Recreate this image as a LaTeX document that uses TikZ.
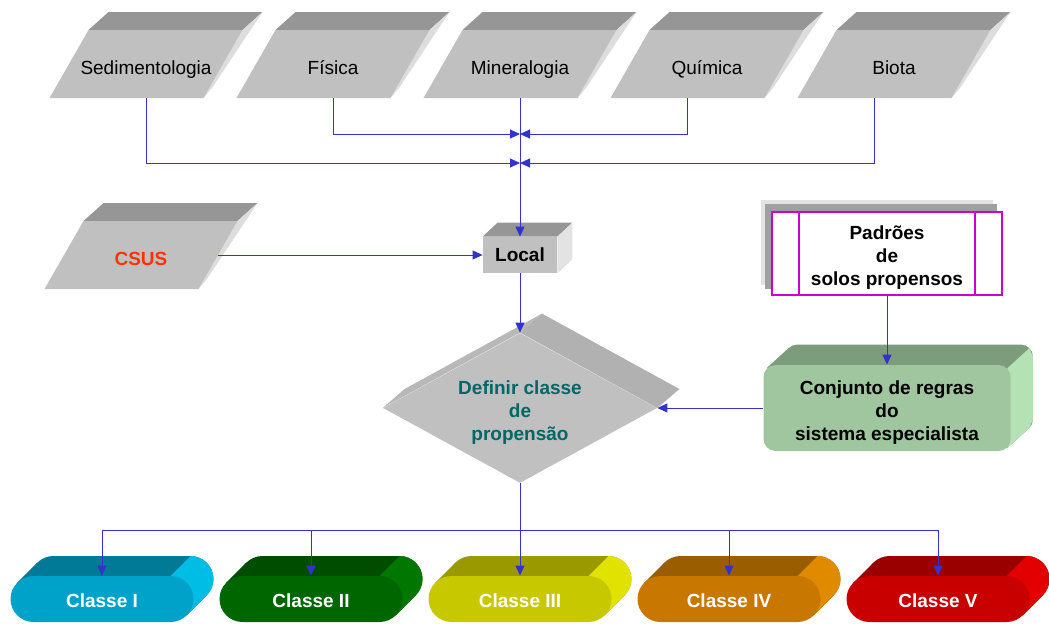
\documentclass[tikz,border=0pt]{standalone}
\usepackage{fontspec}
\setmainfont{Liberation Sans}
\usepackage{xcolor}
\usepackage{tikz}
\usetikzlibrary{arrows.meta,shapes.geometric,shapes.misc,backgrounds}
\definecolor{dataFront}{HTML}{C0C0C0}
\definecolor{dataTop}{HTML}{969696}
\definecolor{dataSide}{HTML}{DDDDDD}
\definecolor{linkBlue}{HTML}{3333CC}
\definecolor{csusRed}{HTML}{FF3300}
\definecolor{decTeal}{HTML}{006666}
\definecolor{padMagenta}{HTML}{CC00CC}
\definecolor{padLight}{HTML}{E3E3E3}
\definecolor{padMid}{HTML}{A0A0A0}
\definecolor{ruleFront}{HTML}{A0C6A0}
\definecolor{ruleTop}{HTML}{7C9C7C}
\definecolor{ruleSide}{HTML}{B4E2B4}
\definecolor{clsOneF}{HTML}{00A2C9}
\definecolor{clsOneT}{HTML}{007A96}
\definecolor{clsOneS}{HTML}{00BDE6}
\definecolor{clsTwoF}{HTML}{006600}
\definecolor{clsTwoT}{HTML}{004D00}
\definecolor{clsTwoS}{HTML}{007800}
\definecolor{clsThreeF}{HTML}{C8C800}
\definecolor{clsThreeT}{HTML}{9A9A00}
\definecolor{clsThreeS}{HTML}{E2E200}
\definecolor{clsFourF}{HTML}{C87800}
\definecolor{clsFourT}{HTML}{9A5E00}
\definecolor{clsFourS}{HTML}{E08A00}
\definecolor{clsFiveF}{HTML}{C80000}
\definecolor{clsFiveT}{HTML}{9A0000}
\definecolor{clsFiveS}{HTML}{E20000}
\newcommand{\diagfont}{\fontsize{9.5}{11.5}\selectfont}
\tikzset{
  datatext/.style={rectangle,inner sep=0pt,minimum width=77pt,minimum height=34pt,
    text height=10pt,text depth=0pt,font=\diagfont},
  lowtext/.style={text height=32pt,text depth=0pt},
  localbox/.style={rectangle,fill=dataFront,minimum width=37pt,minimum height=18pt,
    inner sep=0pt,font=\diagfont\bfseries},
  decision/.style={diamond,aspect=1.83,fill=dataFront,minimum width=137pt,minimum height=75pt,
    inner sep=0pt,align=center,text=decTeal,font=\diagfont\bfseries,lowtext},
  padbox/.style={rectangle,draw=padMagenta,line width=1pt,fill=white,minimum width=115pt,
    minimum height=41.5pt,inner sep=0pt,align=center,font=\diagfont\bfseries,lowtext},
  rulebox/.style={rectangle,rounded corners=6pt,fill=ruleFront,minimum width=123.5pt,
    minimum height=43pt,inner sep=0pt,align=center,font=\diagfont\bfseries,lowtext},
  pillface/.style={rounded rectangle,minimum width=91.5pt,minimum height=23pt,inner sep=0pt,
    text height=8.5pt,text depth=0pt,text=white,font=\diagfont\bfseries},
  flowline/.style={draw=linkBlue,line width=0.5pt},
  flowarrow/.style={-{Triangle[length=5pt,width=4.5pt]},draw=linkBlue,line width=0.5pt}
}
% slanted 3D data block: name, centre x, centre y, label
\newcommand{\datablock}[5][]{%
  \begin{scope}[shift={(#3,#4)}]
    \fill[dataTop] (-57.5,-34) -- (96.5,-34) -- (116.5,-52) -- (-37.5,-52) -- cycle;
    \fill[dataSide] (96.5,-34) -- (116.5,-52) -- (66,24) -- (57.5,34) -- cycle;
    \fill[dataFront] (-96.5,34) -- (57.5,34) -- (96.5,-34) -- (-57.5,-34) -- cycle;
  \end{scope}
  \node[datatext,#1] (#2) at (#3,#4) {#5};}
% extruded pill: name, centre x, front, top, side, label
\newcommand{\classpill}[6]{%
  \fill[#4] ({#2-48.5},556) arc[start angle=90,end angle=270,radius=11.5pt]
    -- ({#2+88.5},602) arc[start angle=-90,end angle=90,radius=11.5pt] -- cycle;
  \fill[#4] ({#2-84.76},582.74) -- ({#2-64.76},562.74) -- ({#2+104.76},595.26)
    -- ({#2+84.76},615.26) -- cycle;
  \fill[#5] ({#2+68.5},576) -- ({#2+88.5},556) arc[start angle=90,end angle=-45,radius=11.5pt]
    -- ({#2+84.76},615.26) -- cycle;
  \node[pillface,fill=#3] (#1) at (#2,599) {#6};}

\begin{document}
\begin{tikzpicture}[x=0.5pt,y=-0.5pt]
  \useasboundingbox (0,0) rectangle (1049,623);
  % sources
  \datablock{sed}{146}{64}{Sedimentologia}
  \datablock{fis}{333}{64}{Física}
  \datablock{min}{520}{64}{Mineralogia}
  \datablock{qui}{707}{64}{Química}
  \datablock{bio}{894}{64}{Biota}
  \datablock[text=csusRed,font=\diagfont\bfseries]{csus}{141}{255}{CSUS}
  % local
  \node[localbox] (local) at (520,255) {Local};
  \fill[dataTop] (local.north west) -- ++(15,-14) -- ([shift={(15,-14)}]local.north east)
    -- (local.north east) -- cycle;
  \fill[padLight] (local.north east) -- ++(15,-14) -- ([shift={(15,-14)}]local.south east)
    -- (local.south east) -- cycle;
  % decision
  \node[decision] (dia) at (520,408) {Definir classe\\de\\propensão};
  \fill[dataFront!96!black] (dia.west) -- ++(22,-19) -- ([shift={(22,-19)}]dia.north)
    -- (dia.north) -- cycle;
  \fill[dataFront!92!black] (dia.north) -- ++(22,-19) -- ([shift={(22,-19)}]dia.east)
    -- (dia.east) -- cycle;
  % expert system
  \node[padbox] (pad) at (887,253.5) {Padrões\\de\\solos propensos};
  \draw[padMagenta,line width=1pt] ([xshift=14pt]pad.north west) -- ([xshift=14pt]pad.south west);
  \draw[padMagenta,line width=1pt] ([xshift=-14pt]pad.north east) -- ([xshift=-14pt]pad.south east);
  \node[rulebox] (regras) at (887,408) {Conjunto de regras\\do\\sistema especialista};
  \begin{pgfonlayer}{background}
    \fill[padLight] ([shift={(-10,-11)}]pad.south west) rectangle ([shift={(-10,-11)}]pad.north east);
    \fill[padMid] ([shift={(-6,-7)}]pad.south west) rectangle ([shift={(-6,-7)}]pad.north east);
    \fill[ruleTop,rounded corners=6pt] ([shift={(22,-20)}]regras.south west)
      rectangle ([shift={(22,-20)}]regras.north east);
    \fill[ruleTop] ([shift={(3.5,3.5)}]regras.north west) -- ([shift={(25.5,-16.5)}]regras.north west)
      -- ([shift={(18.5,-23.5)}]regras.south east) -- ([shift={(-3.5,-3.5)}]regras.south east) -- cycle;
    \fill[ruleSide] ([shift={(-3.5,3.5)}]regras.north east) -- ([shift={(18.5,-16.5)}]regras.north east)
      -- ([shift={(22,-8)}]regras.north east) -- ([shift={(22,-32)}]regras.south east)
      -- ([shift={(18.5,-23.5)}]regras.south east) -- ([shift={(-3.5,-3.5)}]regras.south east) -- cycle;
  \end{pgfonlayer}
  % classes
  \classpill{cl1}{102}{clsOneF}{clsOneT}{clsOneS}{Classe I}
  \classpill{cl2}{311}{clsTwoF}{clsTwoT}{clsTwoS}{Classe II}
  \classpill{cl3}{520}{clsThreeF}{clsThreeT}{clsThreeS}{Classe III}
  \classpill{cl4}{729}{clsFourF}{clsFourT}{clsFourS}{Classe IV}
  \classpill{cl5}{938}{clsFiveF}{clsFiveT}{clsFiveS}{Classe V}
  % connectors
  \coordinate (upjoin) at (520,134);
  \coordinate (lowjoin) at (520,163);
  \coordinate (fork) at (520,530);
  \draw[flowarrow] (min.south) -- (local.north);
  \draw[flowarrow] (sed.south) |- (lowjoin);
  \draw[flowarrow] (fis.south) |- (upjoin);
  \draw[flowarrow] ([xshift=-10pt]qui.south) |- (upjoin);
  \draw[flowarrow] ([xshift=-10pt]bio.south) |- (lowjoin);
  \draw[flowarrow] (csus.east) -- (local.west);
  \draw[flowarrow] (local.south) -- (dia.north);
  \draw[flowarrow] (pad.south) -- (regras.north);
  \draw[flowarrow] (regras.west) -- (dia.east);
  \draw[flowline] (dia.south) -- (fork);
  \draw[flowarrow] (fork) -| (cl1.north);
  \draw[flowarrow] (fork) -| (cl2.north);
  \draw[flowarrow] (fork) -- (cl3.north);
  \draw[flowarrow] (fork) -| (cl4.north);
  \draw[flowarrow] (fork) -| (cl5.north);
\end{tikzpicture}
\end{document}
